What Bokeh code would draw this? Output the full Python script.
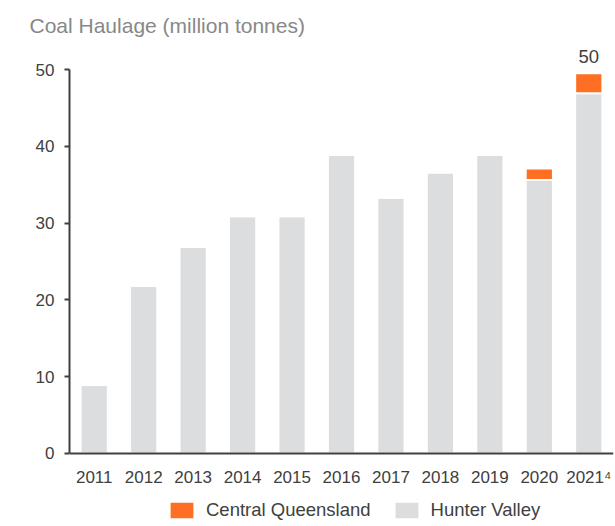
from bokeh.plotting import figure
from bokeh.models import FactorRange, Range1d, FixedTicker, Legend, LegendItem, ColumnDataSource, Title, Span
from bokeh.core.properties import value
from bokeh.embed import file_html
from bokeh.resources import INLINE

years = ["2011", "2012", "2013", "2014", "2015", "2016", "2017", "2018", "2019", "2020", "2021\u2074"]
hunter_valley = [8.9, 21.8, 26.9, 30.9, 30.9, 38.9, 33.3, 36.6, 38.9, 35.6, 46.9]
central_queensland = [0, 0, 0, 0, 0, 0, 0, 0, 0, 1.5, 2.6]
label_years = ["2021\u2074"]
label_values = [49.5]
label_texts = ["50"]
y_ticks = [0, 10, 20, 30, 40, 50]

FONT = "Liberation Sans"
GREY = "#dcdddf"
ORANGE = "#fe6f23"
DARK = "#404040"

src = ColumnDataSource(dict(year=years, hv=hunter_valley, cq=central_queensland))

p = figure(x_range=FactorRange(factors=years), y_range=Range1d(-9.26, 53),
           width=615, height=526, output_backend="svg", toolbar_location=None,
           min_border_left=69, min_border_right=2, min_border_top=46, min_border_bottom=2)

p.title = Title(text="Coal Haulage (million tonnes)", align="left", offset=-40, standoff=19,
                text_font=FONT, text_font_size="21px", text_font_style="normal", text_color="#888888")

r = p.vbar_stack(["hv", "cq"], x="year", width=0.55, source=src,
                 color=[GREY, ORANGE], line_color="white", line_width=2)

# total label above the last bar
p.text(x=label_years, y=label_values, text=label_texts, text_align="center", text_baseline="bottom",
       y_offset=-10, text_font=value(FONT), text_font_size="18.5px", text_color=DARK)

# category axis: baseline and labels
p.add_layout(Span(location=0, dimension="width", line_color=DARK, line_width=2))
p.text(x=years, y=[0] * len(years), text=years, text_align="center", text_baseline="alphabetic",
       y_offset=24, text_font=value(FONT), text_font_size="17px", text_color=DARK)

p.xaxis.visible = False
p.xgrid.visible = False
p.ygrid.visible = False
p.outline_line_color = None

p.yaxis.ticker = FixedTicker(ticks=y_ticks)
p.yaxis.bounds = (0, 50)
p.yaxis.axis_line_color = DARK
p.yaxis.axis_line_width = 2
p.yaxis.major_tick_line_color = DARK
p.yaxis.major_tick_line_width = 2
p.yaxis.major_tick_out = 5
p.yaxis.major_tick_in = 0
p.yaxis.minor_tick_line_color = None
p.yaxis.major_label_text_font = FONT
p.yaxis.major_label_text_font_size = "17px"
p.yaxis.major_label_text_color = DARK
p.yaxis.major_label_standoff = 10

legend = Legend(items=[LegendItem(label="Central Queensland", renderers=[r[1]]),
                       LegendItem(label="Hunter Valley", renderers=[r[0]])],
                orientation="horizontal", location=(97, 3),
                glyph_width=31, glyph_height=22, label_standoff=9, spacing=20,
                padding=0, margin=0, border_line_color=None, background_fill_alpha=0,
                label_text_font=FONT, label_text_font_size="18.5px", label_text_color=DARK)
p.add_layout(legend, "center")

open("out.html", "w").write(file_html(p, INLINE))
